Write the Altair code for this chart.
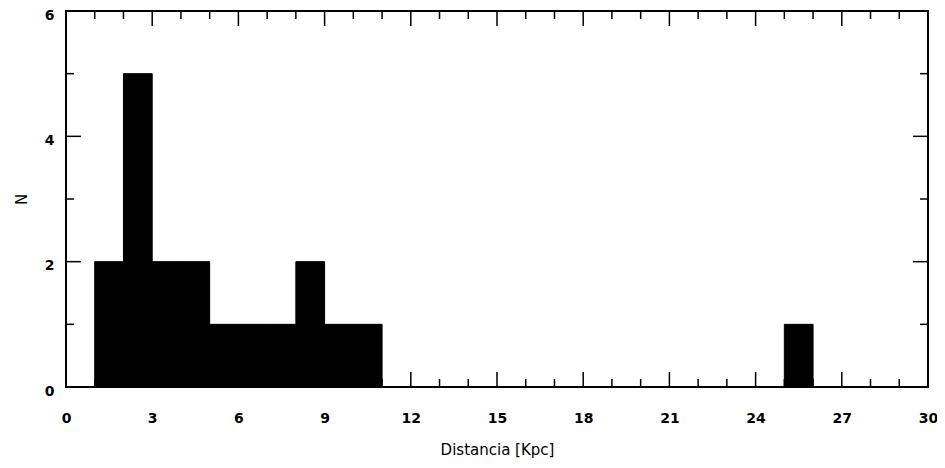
import altair as alt
import pandas as pd

# Histogram data (bin start, count), bin width 1 kpc
bin_start = [1, 2, 3, 4, 5, 6, 7, 8, 9, 10, 25]
counts = [2, 5, 2, 2, 1, 1, 1, 2, 1, 1, 1]

x_ticks_labels = [0, 3, 6, 9, 12, 15, 18, 21, 24, 27, 30]
y_ticks_labels = [0, 2, 4, 6]
x_major = [3, 6, 9, 12, 15, 18, 21, 24, 27]
x_minor = [1, 2, 4, 5, 7, 8, 10, 11, 13, 14, 16, 17, 19, 20, 22, 23, 25, 26, 28, 29]
y_major = [2, 4]
y_minor = [1, 3, 5]

W, H = 862, 376
MAJ, MIN = 15, 8

bars = pd.DataFrame({"start": bin_start, "end": [b + 1 for b in bin_start], "n": counts})
xmaj = pd.DataFrame({"v": x_major})
xmin = pd.DataFrame({"v": x_minor})
ymaj = pd.DataFrame({"v": y_major})
ymin = pd.DataFrame({"v": y_minor})

xscale = alt.Scale(domain=[0, 30], nice=False, zero=False)
yscale = alt.Scale(domain=[0, 6], nice=False)

x_axis = alt.Axis(values=x_ticks_labels, tickSize=0, domain=False, grid=False,
                  labelPadding=24, title="Distancia [Kpc]", titlePadding=17,
                  labelFlush=False)
y_axis = alt.Axis(values=y_ticks_labels, tickSize=0, domain=False, grid=False,
                  labelPadding=12, labelOffset=4, title="N", titlePadding=15,
                  labelFlush=False)

hist = alt.Chart(bars).mark_rect(color="black", stroke="black", strokeWidth=1).encode(
    x=alt.X("start:Q", scale=xscale, axis=x_axis),
    x2="end:Q",
    y=alt.Y("n:Q", scale=yscale, axis=y_axis),
    y2=alt.datum(0),
)

def xticks(df, length):
    bottom = alt.Chart(df).mark_rule(color="black", strokeWidth=1.5).encode(
        x=alt.X("v:Q", scale=xscale, axis=x_axis),
        y=alt.value(H), y2=alt.value(H - length))
    top = alt.Chart(df).mark_rule(color="black", strokeWidth=1.5).encode(
        x=alt.X("v:Q", scale=xscale, axis=x_axis),
        y=alt.value(0), y2=alt.value(length))
    return [bottom, top]

def yticks(df, length):
    left = alt.Chart(df).mark_rule(color="black", strokeWidth=1.5).encode(
        y=alt.Y("v:Q", scale=yscale, axis=y_axis),
        x=alt.value(0), x2=alt.value(length))
    right = alt.Chart(df).mark_rule(color="black", strokeWidth=1.5).encode(
        y=alt.Y("v:Q", scale=yscale, axis=y_axis),
        x=alt.value(W), x2=alt.value(W - length))
    return [left, right]

layers = [hist] + xticks(xmaj, MAJ) + xticks(xmin, MIN) + yticks(ymaj, MAJ) + yticks(ymin, MIN)

chart = alt.layer(*layers).properties(
    width=W, height=H,
    background="white",
    autosize=alt.AutoSizeParams(type="none"),
    padding={"left": 58, "top": 3, "right": 9, "bottom": 73},
).configure_view(
    stroke="black", strokeWidth=2
).configure_axis(
    labelFont="DejaVu Sans", labelFontSize=14, labelFontWeight="bold", labelColor="black",
    titleFont="DejaVu Sans", titleFontSize=15, titleFontWeight="normal", titleColor="black",
)

chart.save("out.html", embed_options={"renderer": "svg", "actions": False})
